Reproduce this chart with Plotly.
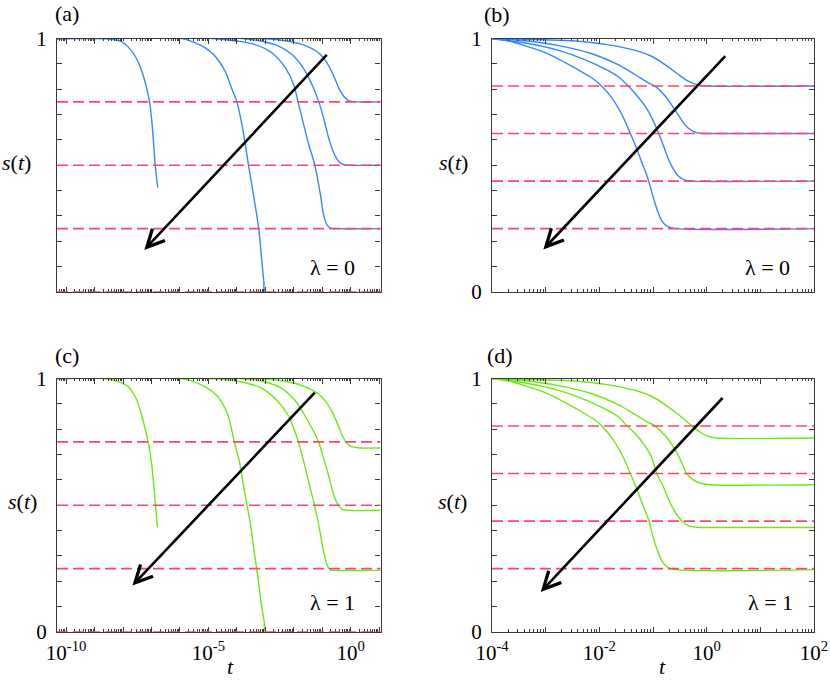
import plotly.graph_objects as go

# ---------------- data (x given as log10 t) ----------------
# Panel (a): lambda = 0, early times
a1_logt = [-10.32, -9.22, -8.40, -8.04, -7.81, -7.57, -7.40, -7.28, -7.16, -7.06, -6.98, -6.92, -6.87, -6.81, -6.78]
a1_s    = [1.0, 1.0, 0.997, 0.987, 0.966, 0.930, 0.890, 0.850, 0.800, 0.745, 0.665, 0.580, 0.501, 0.440, 0.412]
a2_logt = [-10.32, -5.93, -5.46, -5.11, -4.76, -4.41, -4.17, -4.00, -3.82, -3.70, -3.59, -3.41, -3.23, -3.12, -3.05, -3.00, 1.05]
a2_s    = [1.0, 1.0, 0.983, 0.963, 0.930, 0.871, 0.800, 0.751, 0.660, 0.581, 0.501, 0.380, 0.250, 0.120, 0.040, 0.0, 0.0]
a3_logt = [-10.32, -4.88, -3.94, -3.35, -2.76, -2.29, -2.00, -1.85, -1.65, -1.47, -1.26, -1.06, -0.95, -0.83, -0.71, -0.53, 1.05]
a3_s    = [1.0, 1.0, 0.989, 0.976, 0.943, 0.884, 0.818, 0.751, 0.660, 0.581, 0.501, 0.383, 0.304, 0.265, 0.252, 0.250, 0.250]
a4_logt = [-10.32, -3.82, -3.12, -2.53, -2.06, -1.71, -1.41, -1.12, -0.95, -0.77, -0.59, -0.42, -0.24, -0.07, 1.05]
a4_s    = [1.0, 1.0, 0.989, 0.970, 0.937, 0.891, 0.831, 0.751, 0.686, 0.607, 0.548, 0.515, 0.502, 0.500, 0.500]
a5_logt = [-10.32, -3.12, -2.18, -1.59, -1.12, -0.83, -0.59, -0.42, -0.24, -0.07, 0.11, 1.05]
a5_s    = [1.0, 1.0, 0.989, 0.972, 0.943, 0.904, 0.851, 0.805, 0.772, 0.755, 0.751, 0.750]
a_levels = [0.0, 0.25, 0.5, 0.75]

# Panel (b): lambda = 0
b1_logt = [-4.0, -3.689, -3.379, -3.068, -2.758, -2.447, -2.137, -1.950, -1.764, -1.578, -1.422, -1.298, -1.205, -1.143, -1.081, -1.019, -0.925, -0.832, -0.739, -0.615, 2.0]
b1_s    = [1.0, 0.990, 0.971, 0.949, 0.919, 0.883, 0.844, 0.811, 0.765, 0.699, 0.625, 0.562, 0.509, 0.476, 0.438, 0.391, 0.325, 0.280, 0.260, 0.251, 0.250]
b2_logt = [-4.0, -3.379, -2.758, -2.261, -1.888, -1.640, -1.453, -1.329, -1.143, -1.019, -0.894, -0.801, -0.708, -0.615, -0.522, -0.398, -0.273, 2.0]
b2_s    = [1.0, 0.982, 0.953, 0.916, 0.879, 0.848, 0.811, 0.782, 0.732, 0.686, 0.625, 0.575, 0.522, 0.483, 0.457, 0.441, 0.4375, 0.4375]
b3_logt = [-4.0, -3.379, -2.758, -2.137, -1.640, -1.329, -1.081, -0.957, -0.770, -0.615, -0.491, -0.366, -0.242, -0.118, 0.037, 2.0]
b3_s    = [1.0, 0.991, 0.972, 0.940, 0.896, 0.857, 0.824, 0.811, 0.772, 0.726, 0.686, 0.651, 0.633, 0.626, 0.625, 0.625]
b4_logt = [-4.0, -3.068, -2.447, -1.826, -1.329, -1.019, -0.770, -0.522, -0.335, -0.149, 0.037, 2.0]
b4_s    = [1.0, 0.995, 0.990, 0.975, 0.953, 0.929, 0.896, 0.857, 0.831, 0.816, 0.8125, 0.8125]
b_levels = [0.25, 0.4375, 0.625, 0.8125]

# Panel (c): lambda = 1, early times
c1_logt = [-10.32, -8.67, -8.20, -7.84, -7.55, -7.35, -7.22, -7.10, -6.99, -6.91, -6.85, -6.79]
c1_s    = [1.0, 1.0, 0.989, 0.970, 0.924, 0.858, 0.800, 0.740, 0.660, 0.568, 0.489, 0.412]
c2_logt = [-10.32, -5.97, -5.26, -4.68, -4.32, -4.09, -3.91, -3.77, -3.64, -3.50, -3.39, -3.27, -3.15, -3.03, -3.00, 1.05]
c2_s    = [1.0, 1.0, 0.976, 0.930, 0.858, 0.751, 0.673, 0.581, 0.501, 0.410, 0.318, 0.225, 0.120, 0.034, 0.0, 0.0]
c3_logt = [-10.32, -4.91, -3.86, -3.15, -2.62, -2.21, -1.98, -1.84, -1.65, -1.45, -1.27, -1.10, -0.95, -0.83, -0.71, -0.45, 1.05]
c3_s    = [1.0, 1.0, 0.987, 0.963, 0.917, 0.858, 0.798, 0.751, 0.673, 0.581, 0.501, 0.410, 0.318, 0.265, 0.245, 0.243, 0.243]
c4_logt = [-10.32, -3.86, -3.03, -2.45, -1.98, -1.63, -1.33, -1.13, -0.95, -0.78, -0.63, -0.48, -0.31, -0.10, 1.05]
c4_s    = [1.0, 1.0, 0.987, 0.963, 0.917, 0.858, 0.798, 0.751, 0.686, 0.620, 0.555, 0.509, 0.485, 0.480, 0.480]
c5_logt = [-10.32, -3.15, -2.21, -1.51, -1.04, -0.69, -0.45, -0.28, -0.12, 0.08, 0.31, 1.05]
c5_s    = [1.0, 1.0, 0.987, 0.963, 0.930, 0.877, 0.818, 0.772, 0.743, 0.730, 0.726, 0.726]
c_levels = [0.0, 0.25, 0.5, 0.75]

# Panel (d): lambda = 1
d1_logt = [-4.0, -3.689, -3.379, -3.068, -2.758, -2.447, -2.137, -1.950, -1.764, -1.578, -1.422, -1.298, -1.205, -1.143, -1.075, -1.019, -0.925, -0.832, -0.739, -0.615, 2.0]
d1_s    = [1.0, 0.990, 0.971, 0.949, 0.919, 0.883, 0.844, 0.812, 0.765, 0.699, 0.626, 0.562, 0.509, 0.476, 0.439, 0.391, 0.325, 0.280, 0.257, 0.247, 0.246]
d2_logt = [-4.0, -3.379, -2.758, -2.261, -1.888, -1.640, -1.491, -1.329, -1.143, -1.019, -0.932, -0.801, -0.708, -0.615, -0.466, -0.340, -0.186, 0.0, 2.0]
d2_s    = [1.0, 0.982, 0.953, 0.916, 0.879, 0.848, 0.814, 0.782, 0.732, 0.686, 0.626, 0.570, 0.522, 0.483, 0.439, 0.420, 0.413, 0.412, 0.412]
d3_logt = [-4.0, -3.379, -2.758, -2.137, -1.640, -1.329, -1.081, -0.970, -0.770, -0.615, -0.491, -0.373, -0.250, -0.120, 0.060, 2.0]
d3_s    = [1.0, 0.991, 0.972, 0.940, 0.896, 0.857, 0.826, 0.814, 0.774, 0.728, 0.680, 0.626, 0.600, 0.587, 0.581, 0.581]
d4_logt = [-4.0, -3.068, -2.447, -1.826, -1.329, -1.019, -0.770, -0.522, -0.280, -0.120, 0.030, 0.190, 2.0]
d4_s    = [1.0, 0.995, 0.990, 0.975, 0.953, 0.929, 0.896, 0.857, 0.814, 0.788, 0.772, 0.765, 0.765]
d_levels = [0.25, 0.4375, 0.625, 0.8125]

# Arrows: (tail log10 t, tail s, head log10 t, head s)
a_arrow = [-0.79, 0.941, -7.25, 0.166]
b_arrow = [0.373, 0.936, -3.044, 0.168]
c_arrow = [-1.21, 0.950, -7.67, 0.183]
d_arrow = [0.323, 0.929, -3.093, 0.158]

# tick labels
short_tickvals = [10.0 ** k for k in range(-10, 2)]
short_ticktext = ['10<sup>-10</sup>', '', '', '', '', '10<sup>-5</sup>', '', '', '', '', '10<sup>0</sup>', '']
long_tickvals = [10.0 ** k for k in range(-4, 3)]
long_ticktext = ['10<sup>-4</sup>', '', '10<sup>-2</sup>', '', '10<sup>0</sup>', '', '10<sup>2</sup>']

# ---------------- styling ----------------
BLUE = 'rgb(51,136,255)'
GREEN = 'rgb(110,232,20)'
RED = 'rgb(255,68,108)'
FRAME = '#3a3a3a'
FONT = "'Liberation Serif', 'Times New Roman', Times, serif"

W, H = 830, 681
def px(x):
    return x / W
def py(y):
    return 1 - y / H

fig = go.Figure()

panels = [
    ('x', 'y', BLUE, [(a1_logt, a1_s), (a2_logt, a2_s), (a3_logt, a3_s), (a4_logt, a4_s), (a5_logt, a5_s)], a_levels, a_arrow),
    ('x2', 'y2', BLUE, [(b1_logt, b1_s), (b2_logt, b2_s), (b3_logt, b3_s), (b4_logt, b4_s)], b_levels, b_arrow),
    ('x3', 'y3', GREEN, [(c1_logt, c1_s), (c2_logt, c2_s), (c3_logt, c3_s), (c4_logt, c4_s), (c5_logt, c5_s)], c_levels, c_arrow),
    ('x4', 'y4', GREEN, [(d1_logt, d1_s), (d2_logt, d2_s), (d3_logt, d3_s), (d4_logt, d4_s)], d_levels, d_arrow),
]

shapes = []
annotations = []
for xa, ya, col, curves, levels, arrow in panels:
    for lt, s in curves:
        fig.add_trace(go.Scatter(
            x=[10.0 ** v for v in lt], y=s, xaxis=xa, yaxis=ya, mode='lines',
            line=dict(color=col, width=1.4, shape='spline', smoothing=0.8),
            showlegend=False, hoverinfo='skip'))
    for lv in levels:
        shapes.append(dict(type='line', xref=xa + ' domain', yref=ya, x0=0, x1=1, y0=lv, y1=lv,
                           line=dict(color=RED, width=1.6, dash='11px,5px'), layer='above'))
    annotations.append(dict(xref=xa, yref=ya, axref=xa, ayref=ya,
                            x=arrow[2], y=arrow[3], ax=arrow[0], ay=arrow[1],
                            showarrow=True, arrowhead=5, arrowsize=1.3, arrowwidth=2.6,
                            arrowcolor='black', text=''))

# text labels (positions in page pixels)
def txt(x, y, s, size=22):
    annotations.append(dict(xref='paper', yref='paper', x=px(x), y=py(y), text=s, showarrow=False,
                            font=dict(family=FONT, size=size, color='black'),
                            xanchor='center', yanchor='middle'))

txt(67, 13, '(a)')
txt(497, 15, '(b)')
txt(67, 355, '(c)')
txt(500, 355, '(d)')
txt(332, 268, 'λ = 0')
txt(767, 268, 'λ = 0')
txt(332, 602, 'λ = 1')
txt(770, 602, 'λ = 1')
txt(16, 163, '<i>s</i>(<i>t</i>)')
txt(453, 163, '<i>s</i>(<i>t</i>)')
txt(22, 502, '<i>s</i>(<i>t</i>)')
txt(452, 502, '<i>s</i>(<i>t</i>)')
txt(230, 666, '<i>t</i>')
txt(662, 666, '<i>t</i>')

tickfont = dict(family=FONT, size=21, color='black')

def xaxis(domain, rng, tickvals, ticktext, show, anchor):
    return dict(type='log', domain=domain, range=rng, anchor=anchor, automargin=False,
                tickmode='array', tickvals=tickvals, ticktext=ticktext, showticklabels=show,
                ticks='inside', ticklen=5, tickwidth=1, tickcolor=FRAME,
                minor=dict(dtick='D1', ticks='inside', ticklen=2.5, tickcolor=FRAME, showgrid=False),
                showline=True, linecolor=FRAME, linewidth=1.2, mirror='allticks',
                showgrid=False, zeroline=False, tickfont=tickfont, ticklabelstandoff=2)

def yaxis(domain, ticktext, anchor):
    return dict(domain=domain, range=[0, 1], anchor=anchor, automargin=False,
                tickmode='array', tickvals=[0, 1], ticktext=ticktext,
                ticks='inside', ticklen=5, tickwidth=1, tickcolor=FRAME,
                minor=dict(dtick=0.1, tick0=0, ticks='inside', ticklen=5, tickcolor=FRAME, showgrid=False),
                showline=True, linecolor=FRAME, linewidth=1.2, mirror='allticks',
                showgrid=False, zeroline=False, tickfont=tickfont, ticklabelstandoff=5)

left = [px(57), px(380.5)]
right = [px(492), px(814)]
top = [py(292), py(38.5)]
bottom = [py(632), py(378.5)]

fig.update_layout(
    width=W, height=H, margin=dict(l=0, r=0, t=0, b=0, autoexpand=False),
    paper_bgcolor='white', plot_bgcolor='white',
    font=dict(family=FONT, color='black'),
    xaxis=xaxis(left, [-10.32, 1.05], short_tickvals, short_ticktext, False, 'y'),
    yaxis=yaxis(top, ['', '1'], 'x'),
    xaxis2=xaxis(right, [-4, 2], long_tickvals, long_ticktext, False, 'y2'),
    yaxis2=yaxis(top, ['0', '1'], 'x2'),
    xaxis3=xaxis(left, [-10.32, 1.05], short_tickvals, short_ticktext, True, 'y3'),
    yaxis3=yaxis(bottom, ['0', '1'], 'x3'),
    xaxis4=xaxis(right, [-4, 2], long_tickvals, long_ticktext, True, 'y4'),
    yaxis4=yaxis(bottom, ['0', '1'], 'x4'),
    shapes=shapes, annotations=annotations,
)

# remove the default 8 px page margin so the 830x681 figure fills the window exactly
fig.write_html('out.html', config={'displayModeBar': False},
               post_script="document.body.style.margin='0px';document.body.style.overflow='hidden';")
